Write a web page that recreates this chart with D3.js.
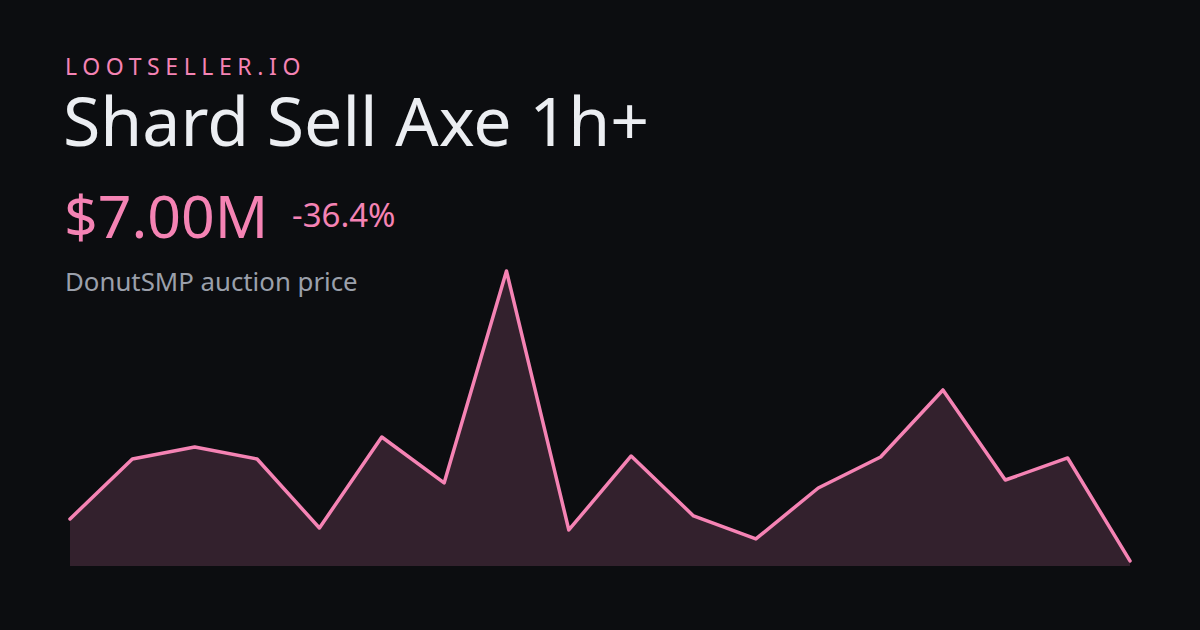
<!DOCTYPE html>
<html><head><meta charset="utf-8">
<script src="https://cdn.jsdelivr.net/npm/d3@7"></script>
<style>html,body{margin:0;padding:0;background:#0c0d10;}</style>
</head><body><svg id="c" width="1200" height="630"></svg>
<script>
const brand = "LOOTSELLER.IO";
const title = "Shard Sell Axe 1h+";
const priceLabel = "$7.00M";
const changeLabel = "-36.4%";
const subtitle = "DonutSMP auction price";
const points = d3.range(18);
const prices = [11.0,16.71,17.86,16.71,10.14,18.81,14.43,34.62,9.95,17.0,11.29,9.10,13.95,16.9,23.29,14.71,16.81,7.0];
const yDomain = [6.52, 34.62];

const svg = d3.select("#c");
svg.append("rect").attr("width",1200).attr("height",630).attr("fill","#0c0d10");
const font = "'Noto Sans','Open Sans',sans-serif";
const pink = "#f583b4";
svg.append("text").attr("x",65).attr("y",75).text(brand).attr("fill",pink)
  .attr("font-family",font).attr("font-size",23).attr("letter-spacing",5.6);
svg.append("text").attr("x",63).attr("y",146).text(title).attr("fill","#eceef2")
  .attr("font-family",font).attr("font-size",68);
svg.append("text").attr("x",64).attr("y",238).text(priceLabel).attr("fill",pink)
  .attr("font-family",font).attr("font-size",59);
svg.append("text").attr("x",292).attr("y",227).text(changeLabel).attr("fill",pink)
  .attr("font-family",font).attr("font-size",33);
svg.append("text").attr("x",65).attr("y",291).text(subtitle).attr("fill","#9ba0ab")
  .attr("font-family",font).attr("font-size",25.8);

const x = d3.scaleLinear().domain([0, points.length-1]).range([70,1130]);
const y = d3.scaleLinear().domain(yDomain).range([566,271]);
const area = d3.area().x((d,i)=>x(points[i])).y0(y(yDomain[0])).y1(d=>y(d));
const line = d3.line().x((d,i)=>x(points[i])).y(d=>y(d));
svg.append("path").datum(prices).attr("d",area).attr("fill","#33212d");
svg.append("path").datum(prices).attr("d",line).attr("fill","none")
  .attr("stroke",pink).attr("stroke-width",3.5).attr("stroke-linejoin","round").attr("stroke-linecap","round");
</script></body></html>
